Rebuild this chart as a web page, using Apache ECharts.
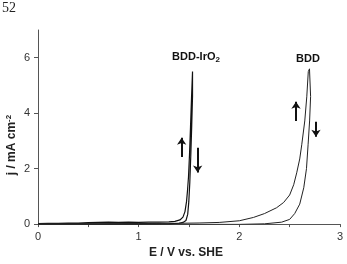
<!DOCTYPE html>
<html>
<head>
<meta charset="utf-8">
<script src="https://cdn.jsdelivr.net/npm/echarts@6/dist/echarts.min.js"></script>
<style>
  html, body { margin: 0; padding: 0; background: #fff; }
  #chart { width: 347px; height: 264px; }
</style>
</head>
<body>
<div id="chart"></div>
<script>
// cyclic voltammograms, [E (V vs SHE), j (mA cm-2)]
const irO2Forward = [
  [0, 0.02], [0.1, 0.03], [0.2, 0.03], [0.3, 0.04], [0.4, 0.04], [0.5, 0.05],
  [0.6, 0.06], [0.7, 0.07], [0.8, 0.06], [0.9, 0.07], [1.0, 0.06], [1.1, 0.07],
  [1.2, 0.07], [1.3, 0.08], [1.36, 0.1], [1.41, 0.15], [1.44, 0.25], [1.46, 0.45],
  [1.475, 0.8], [1.485, 1.2], [1.495, 1.7], [1.505, 2.5], [1.515, 3.5],
  [1.525, 4.55], [1.535, 5.5]
]
const irO2Reverse = [
  [1.54, 5.52], [1.535, 4.6], [1.527, 3.55], [1.518, 2.5], [1.508, 1.5],
  [1.498, 0.8], [1.487, 0.35], [1.47, 0.13], [1.44, 0.06], [1.4, 0.03],
  [1.3, 0.01], [1.0, 0], [0.5, 0], [0, 0]
]
const bddForward = [
  [0, 0.01], [0.5, 0.01], [1.0, 0.02], [1.4, 0.03], [1.6, 0.04], [1.8, 0.06],
  [2.0, 0.12], [2.14, 0.24], [2.25, 0.38], [2.37, 0.59], [2.44, 0.78], [2.5, 1.05],
  [2.54, 1.42], [2.57, 1.85], [2.6, 2.35], [2.62, 2.86], [2.65, 3.72], [2.67, 4.59],
  [2.685, 5.5], [2.697, 5.6]
]
const bddReverse = [
  [2.712, 5.55], [2.708, 4.6], [2.698, 3.72], [2.683, 2.86], [2.667, 2.0],
  [2.64, 1.31], [2.6, 0.72], [2.55, 0.38], [2.5, 0.17], [2.42, 0.07],
  [2.25, 0.01], [2.0, -0.01], [1.6, -0.01], [1.0, 0], [0, 0]
]
// scan direction arrows: [from, to]
const irO2Arrows = [
  [[1.427, 2.42], [1.427, 3.11]],
  [[1.586, 2.75], [1.586, 1.86]]
]
const bddArrows = [
  [[2.563, 3.72], [2.563, 4.41]],
  [[2.761, 3.69], [2.761, 3.15]]
]
const xTicks = [0, 1, 2, 3]
const yTicks = [0, 2, 4, 6]

const font = 'Liberation Sans, Arial, sans-serif'

const arrowLines = (arrows) => ({
  silent: true,
  symbol: ['none', 'arrow'],
  symbolSize: 7,
  label: { show: false },
  lineStyle: { color: '#111', width: 2, type: 'solid' },
  emphasis: { disabled: true },
  data: arrows.map(a => [{ coord: a[0] }, { coord: a[1] }])
})

const chart = echarts.init(document.getElementById('chart'))

chart.setOption({
  animation: false,
  grid: { left: 38, right: 7, top: 30, bottom: 31 },
  xAxis: {
    type: 'value',
    min: 0,
    max: 3,
    interval: 0.5,
    name: 'E / V vs. SHE',
    nameLocation: 'middle',
    nameGap: 18,
    nameTextStyle: {
      fontFamily: font, fontSize: 12, fontWeight: 'bold', color: '#222',
      padding: [0, 6, 0, 0]
    },
    axisLine: { lineStyle: { color: '#555', width: 1 } },
    axisTick: { show: true, length: 3, lineStyle: { color: '#555' } },
    axisLabel: {
      fontFamily: font, fontSize: 11, color: '#333', margin: 7,
      customValues: xTicks
    },
    splitLine: { show: false }
  },
  yAxis: {
    type: 'value',
    min: 0,
    max: 7,
    interval: 1,
    axisLine: { show: true, lineStyle: { color: '#555', width: 1 } },
    axisTick: { show: true, length: 4, lineStyle: { color: '#555' }, customValues: yTicks },
    axisLabel: {
      fontFamily: font, fontSize: 11, color: '#333', margin: 8,
      customValues: yTicks
    },
    splitLine: { show: false }
  },
  graphic: [
    {
      type: 'text', left: 2, top: 1,
      style: { text: '52', font: '14px Liberation Serif, serif', fill: '#222' }
    },
    {
      type: 'text', x: 12, y: 145, rotation: Math.PI / 2,
      style: {
        text: '{m|j / mA cm}{s|-2}',
        align: 'center', verticalAlign: 'middle',
        rich: {
          m: { fontFamily: font, fontSize: 12, fontWeight: 'bold', fill: '#222' },
          s: { fontFamily: font, fontSize: 8, fontWeight: 'bold', fill: '#222', padding: [0, 0, 7, 0] }
        }
      }
    },
    {
      type: 'text', x: 196, y: 57,
      style: {
        text: '{m|BDD-IrO}{s|2}',
        align: 'center', verticalAlign: 'middle',
        rich: {
          m: { fontFamily: font, fontSize: 11, fontWeight: 'bold', fill: '#111' },
          s: { fontFamily: font, fontSize: 8, fontWeight: 'bold', fill: '#111', padding: [6, 0, 0, 0] }
        }
      }
    },
    {
      type: 'text', x: 308, y: 59,
      style: {
        text: 'BDD', align: 'center', verticalAlign: 'middle',
        fontFamily: font, fontSize: 11, fontWeight: 'bold', fill: '#111'
      }
    }
  ],
  series: [
    {
      name: 'BDD-IrO2',
      type: 'line',
      showSymbol: false,
      data: irO2Forward.concat(irO2Reverse),
      lineStyle: { color: '#111', width: 1.2 },
      markLine: arrowLines(irO2Arrows)
    },
    {
      name: 'BDD',
      type: 'line',
      showSymbol: false,
      data: bddForward.concat(bddReverse),
      lineStyle: { color: '#222', width: 1 },
      markLine: arrowLines(bddArrows)
    }
  ]
})
</script>
</body>
</html>
